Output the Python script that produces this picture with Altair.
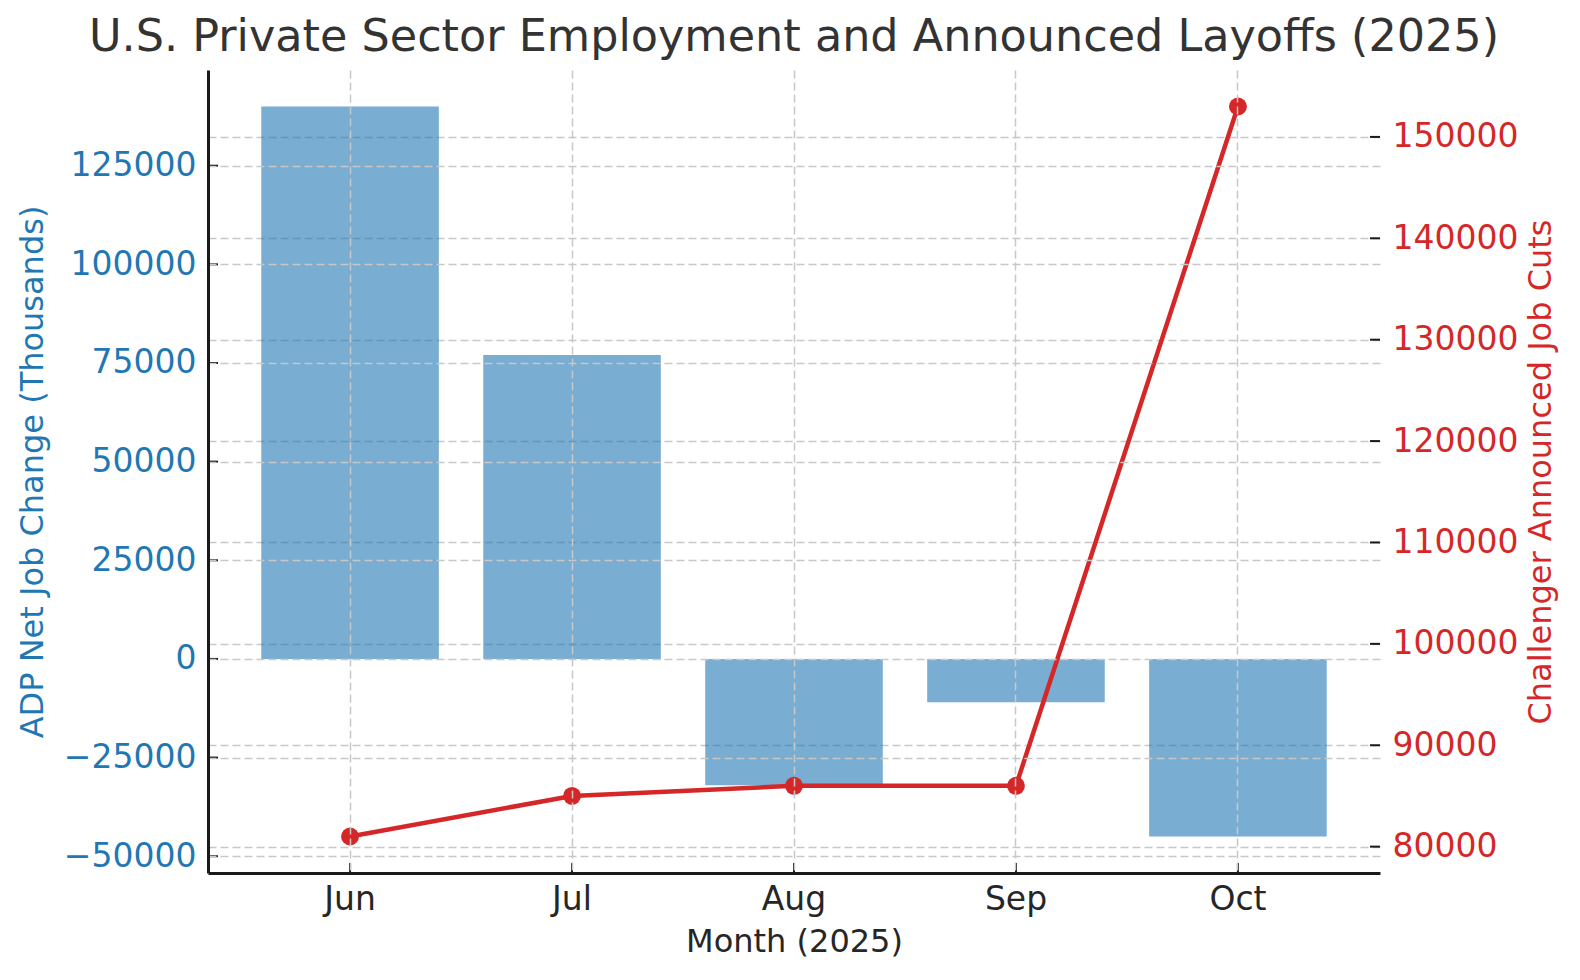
import altair as alt
import pandas as pd

months = ["Jun", "Jul", "Aug", "Sep", "Oct"]
adp_change = [140000, 77000, -32000, -11000, -45000]
layoffs = [81000, 85000, 86000, 86000, 153000]
left_ticks = [-50000, -25000, 0, 25000, 50000, 75000, 100000, 125000]
right_ticks = [80000, 90000, 100000, 110000, 120000, 130000, 140000, 150000]

df = pd.DataFrame({"month": months, "adp": adp_change, "cuts": layoffs})
left_df = pd.DataFrame({"v": left_ticks})
right_df = pd.DataFrame({"v": right_ticks})

W, H = 1172, 803
TICK_LEN = 10


def padded(lo, hi, m=0.05):
    r = hi - lo
    return [lo - r * m, hi + r * m]


left_dom = padded(min(min(adp_change), 0), max(max(adp_change), 0))
right_dom = padded(min(layoffs), max(layoffs))

FONT = "DejaVu Sans"
BLUE = "#1f77b4"
RED = "#d62728"
INK = "#1a1a1a"
GRID = dict(grid=True, gridDash=[8, 4], gridColor="#c8c8c8", gridWidth=1.5)

left_scale = alt.Scale(domain=left_dom, nice=False, zero=False)
right_scale = alt.Scale(domain=right_dom, nice=False, zero=False)

x = alt.X(
    "month:N",
    sort=months,
    title="Month (2025)",
    scale=alt.Scale(paddingInner=0.2, paddingOuter=0.24),
    axis=alt.Axis(
        labelAngle=0, ticks=False, domainColor=INK, domainWidth=3,
        labelColor="#262626", titleColor="#262626", labelFontSize=33,
        titleFontSize=32, labelPadding=10, titlePadding=10,
        titleFontWeight="normal", labelFont=FONT, titleFont=FONT,
        zindex=1, **GRID,
    ),
)

bars = alt.Chart(df).mark_bar(color=BLUE, opacity=0.6).encode(
    x=x,
    y=alt.Y(
        "adp:Q",
        title="ADP Net Job Change (Thousands)",
        scale=left_scale,
        axis=alt.Axis(
            values=left_ticks, format="d", labelColor=BLUE, titleColor=BLUE,
            ticks=False, domainColor=INK, domainWidth=3,
            labelFontSize=33, titleFontSize=32, labelPadding=12,
            titlePadding=14, titleFontWeight="normal", labelFont=FONT,
            titleFont=FONT, zindex=1, **GRID,
        ),
    ),
)

line = alt.Chart(df).mark_line(
    color=RED, strokeWidth=4.5,
    point=alt.OverlayMarkDef(filled=True, size=320, color=RED, opacity=1),
).encode(
    x=x,
    y=alt.Y(
        "cuts:Q",
        title="Challenger Announced Job Cuts",
        scale=right_scale,
        axis=alt.Axis(
            orient="right", values=right_ticks, format="d", labelColor=RED,
            titleColor=RED, ticks=False, domain=False, labelFontSize=33,
            titleFontSize=32, labelPadding=12, titlePadding=8,
            titleAngle=270, titleBaseline="top",
            titleFontWeight="normal", labelFont=FONT, titleFont=FONT,
            **GRID,
        ),
    ),
)

# inward-pointing tick marks (matplotlib style)
left_tk = alt.Chart(left_df).mark_rule(color=INK, strokeWidth=2).encode(
    y=alt.Y("v:Q", scale=left_scale, axis=None),
    x=alt.value(0), x2=alt.value(TICK_LEN),
)
right_tk = alt.Chart(right_df).mark_rule(color=INK, strokeWidth=2).encode(
    y=alt.Y("v:Q", scale=right_scale, axis=None),
    x=alt.value(W - TICK_LEN), x2=alt.value(W),
)
x_tk = alt.Chart(df).mark_rule(color=INK, strokeWidth=2).encode(
    x=x,
    y=alt.value(H - TICK_LEN), y2=alt.value(H),
)

chart = (
    alt.layer(bars, line, left_tk, right_tk, x_tk)
    .resolve_scale(y="independent")
    .properties(
        width=W,
        height=H,
        padding={"left": 200, "top": 62, "right": 190, "bottom": 95},
        autosize=alt.AutoSizeParams(type="none"),
        title=alt.Title(
            "U.S. Private Sector Employment and Announced Layoffs (2025)",
            fontSize=44.5, font=FONT, color="#333333", fontWeight="normal",
            offset=10,
        ),
    )
    .configure_view(stroke=None)
)

chart.save("out.html", embed_options={"renderer": "svg", "actions": False})
